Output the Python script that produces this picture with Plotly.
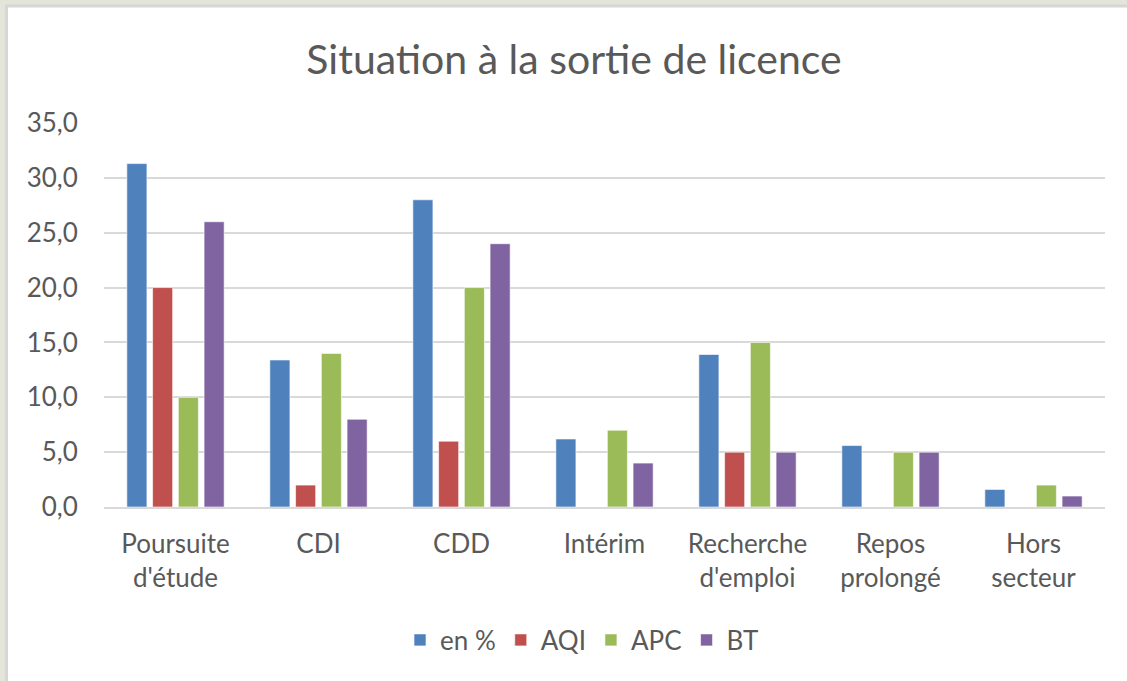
import plotly.graph_objects as go

categories = ["Poursuite<br>d'étude", "CDI", "CDD", "Intérim", "Recherche<br>d'emploi", "Repos<br>prolongé", "Hors<br>secteur"]
en_pct = [31.3, 13.4, 28.0, 6.2, 13.9, 5.6, 1.6]
aqi = [20, 2, 6, None, 5, None, None]
apc = [10, 14, 20, 7, 15, 5, 2]
bt = [26, 8, 24, 4, 5, 5, 1]

series = [("en %", en_pct, "#4f81bd"), ("AQI", aqi, "#c0504d"),
          ("APC", apc, "#9bbb59"), ("BT", bt, "#8064a2")]

W, H = 1127, 681
L, R, T, B = 104, 22, 123, 174
pw, ph = W - L - R, H - T - B

def px(x):
    return (x - L) / pw

def py(y):
    return (H - B - y) / ph

FONT = "Lato"
GREY = "#595959"
FS = 26

fig = go.Figure()
for name, vals, col in series:
    fig.add_trace(go.Bar(x=categories, y=vals, name=name,
                         marker=dict(color=col, line=dict(color="rgba(255,255,255,0.6)", width=1))))

fig.update_layout(
    width=W, height=H,
    margin=dict(l=L, r=R, t=T, b=B),
    paper_bgcolor="#e4e5da",
    plot_bgcolor="rgba(0,0,0,0)",
    separators=", ",
    barmode="group", bargap=0.28, bargroupgap=0.22,
    font=dict(family=FONT, color=GREY, size=FS),
    title=dict(text="Situation à la sortie de licence", x=574 / W, xanchor="center",
               y=1 - 60 / H, yanchor="middle", font=dict(size=41, color=GREY, family=FONT)),
    xaxis=dict(showgrid=False, showline=True, linecolor="#d9d9d9", linewidth=2,
               ticks="outside", ticklen=13, tickcolor="rgba(0,0,0,0)",
               tickfont=dict(size=FS, color=GREY)),
    yaxis=dict(range=[0, 35], dtick=5, tickformat=".1f", showgrid=True,
               gridcolor="#d9d9d9", gridwidth=2, zeroline=False, showline=False,
               ticks="outside", ticklen=20, tickcolor="rgba(0,0,0,0)",
               tickfont=dict(size=FS, color=GREY)),
    legend=dict(orientation="h", x=px(582), xanchor="center", y=py(640), yanchor="middle",
                font=dict(size=FS, color=GREY), bgcolor="rgba(0,0,0,0)"),
    shapes=[dict(type="rect", xref="paper", yref="paper", layer="below",
                 x0=px(6.5), x1=px(W + 20), y0=py(H + 20), y1=py(6),
                 fillcolor="white", line=dict(color="#d6d6d6", width=3))],
)

fig.write_html("out.html", config={"displayModeBar": False},
               post_script="document.body.style.margin='0';")
